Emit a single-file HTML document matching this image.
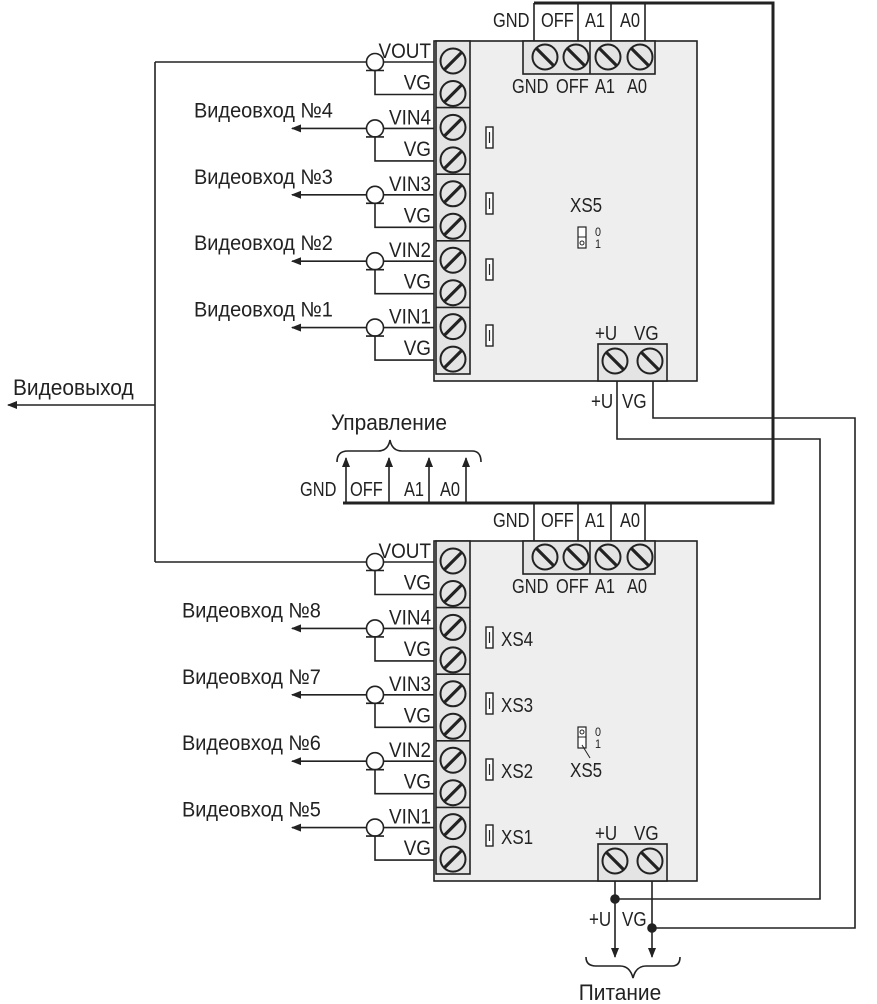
<!DOCTYPE html>
<html><head><meta charset="utf-8"><style>
html,body{margin:0;padding:0;background:#fff;}
svg{display:block;font-family:"Liberation Sans","DejaVu Sans",sans-serif;}
text{fill:#222;}
</style></head><body>
<svg id="s" width="877" height="1004" viewBox="0 0 877 1004" xmlns="http://www.w3.org/2000/svg">
<defs>
<marker id="ar" markerWidth="10" markerHeight="8" refX="9" refY="4" orient="auto" markerUnits="userSpaceOnUse"><path d="M0,0 L10,4 L0,8 z" fill="#222"/></marker>
</defs>
<g id="g" stroke="#222" fill="none" stroke-width="1.6"></g>
</svg>
<script>
var g=document.getElementById('g'),s=document.getElementById('s'),NS='http://www.w3.org/2000/svg';
function el(t,a,p){var e=document.createElementNS(NS,t);for(var k in a)e.setAttribute(k,a[k]);(p||g).appendChild(e);return e;}
function L(x1,y1,x2,y2,w,m){var a={x1:x1,y1:y1,x2:x2,y2:y2};if(w)a['stroke-width']=w;if(m)a['marker-end']='url(#ar)';return el('line',a);}
function P(d,w){return el('path',{d:d,'stroke-width':w||1.6});}
function T(x,y,t,sz,anc,sx){var e=el('text',{x:0,y:0,'font-size':sz||19,'text-anchor':anc||'start',stroke:'none',transform:'translate('+x+','+y+') scale('+(sx||0.9)+',1)'},s);e.textContent=t;return e;}
function screw(cx,cy,dir){el('circle',{cx:cx,cy:cy,r:12.5,'stroke-width':2});
 if(dir>0)L(cx-9,cy+9,cx+9,cy-9,3.2);else L(cx-9,cy-9,cx+9,cy+9,3.2);}
function board(o,bottom){
 el('rect',{x:434,y:41+o,width:263,height:340,fill:'#eeeeee','stroke-width':1.6});
 el('rect',{x:436,y:41+o,width:34,height:333,fill:'#e4e4e4'});
 for(var k=1;k<5;k++)L(436,41+o+k*66.6,470,41+o+k*66.6);
 var names=['VOUT','VIN4','VIN3','VIN2','VIN1'];
 for(var i=0;i<5;i++){var y1=62+o+i*66.4,y2=y1+32.5;
  screw(453,y1-1,1);screw(453,y2-1,1);
  T(431,y1-4,names[i],21,'end');T(431,y2-5,'VG',21,'end');
  el('circle',{cx:375,cy:y1,r:8.5,fill:'#fff'});
  L(366,y1+8.5,384,y1+8.5);
  P('M375,'+(y1+8.5)+' V'+y2+' H434');
  if(i==0){L(155,y1,366,y1);L(384,y1,434,y1);}
  else{L(384,y1,434,y1);L(366,y1,292,y1,0,1);
   var n=bottom?(9-i):(5-i);T(bottom?182:194,y1-11,'Видеовход №'+n,21,'start',0.95);}
 }
 el('rect',{x:523,y:41+o,width:132,height:33,fill:'#e4e4e4'});
 L(590,41+o,590,74+o);
 [545,576,608,640].forEach(function(x){screw(x,57+o,-1);});
 T(512,93+o,'GND',20,'start',0.82);T(556,93+o,'OFF',20,'start',0.82);T(595,93+o,'A1',20,'start',0.82);T(627,93+o,'A0',20,'start',0.82);
 [534,578,611,645].forEach(function(x){L(x,3+o,x,41+o);});
 T(493,27+o,'GND',20,'start',0.82);T(541,27+o,'OFF',20,'start',0.82);T(585,27+o,'A1',20,'start',0.82);T(620,27+o,'A0',20,'start',0.82);
 var jy=[127,193,259,325];
 for(var j=0;j<4;j++){el('rect',{x:486,y:jy[j]+o,width:7,height:21,fill:'#fff','stroke-width':1.4});L(489.5,jy[j]+o+5,489.5,jy[j]+o+16,1.2);
  if(bottom)T(501,jy[j]+o+19,'XS'+(4-j),20,'start',0.85);}
 el('rect',{x:578,y:227+o,width:8,height:21,fill:'#fff','stroke-width':1.2});L(578,237+o,586,237+o,1);
 el('circle',{cx:582,cy:bottom?232+o:243+o,r:2,'stroke-width':1});
 T(595,236+o,'0',12);T(595,248+o,'1',12);
 if(bottom){T(570,777,'XS5',20,'start',0.85);L(582,745+o-500,590,758,1);}else T(570,212,'XS5',20,'start',0.85);
 el('rect',{x:598,y:344+o,width:69,height:37,fill:'#e4e4e4'});
 screw(615,361+o,-1);screw(650,361+o,-1);
 T(595,340+o,'+U',20,'start',0.85);T(634,340+o,'VG',20,'start',0.85);
}
board(0,false);board(500,true);
P('M534,3 H773 V503 H343',3);
for(var x of [346,389,429,466]){L(x,503,x,458,1.6,1);}
T(300,496,'GND',20,'start',0.82);T(350,496,'OFF',20,'start',0.82);T(404,496,'A1',20,'start',0.82);T(440,496,'A0',20,'start',0.82);
P('M337,462 Q337,451 348,451 H378 Q388,451 390,440 Q392,451 402,451 H472 Q481,451 481,462');
T(389,430,'Управление',22,'middle',0.95);
P('M155,62 V562');L(155,405,8,405,1.6,1);T(13,395,'Видеовыход',22,'start',0.95);
P('M617,381 V439 H820 V899 H615');P('M653,381 V418 H855 V928 H652');
L(615,881,615,957,1.6,1);L(652,881,652,957,1.6,1);
el('circle',{cx:615,cy:899,r:4,fill:'#222'});el('circle',{cx:652,cy:928,r:4,fill:'#222'});
T(591,408,'+U',20,'start',0.85);T(622,408,'VG',20,'start',0.85);T(589,926,'+U',20,'start',0.85);T(622,926,'VG',20,'start',0.85);
P('M586,957 Q586,966 596,966 H620 Q630,966 633,978 Q636,966 646,966 H672 Q680,966 680,957');
T(620,1000,'Питание',22,'middle',0.95);
</script>
</body></html>
